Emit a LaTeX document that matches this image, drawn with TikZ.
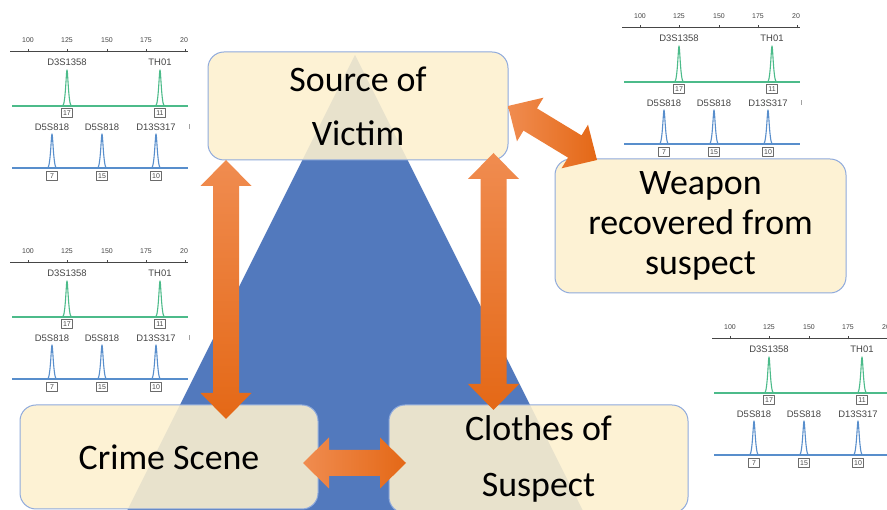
\documentclass[tikz,border=0pt]{standalone}
\usepackage{fontspec}
\setmainfont{Carlito}
\newfontfamily\epgfont{Liberation Sans}
\usetikzlibrary{positioning,calc}

\definecolor{boxfill}{RGB}{253,241,207}
\definecolor{boxedge}{RGB}{143,170,220}
\definecolor{pyramid}{RGB}{82,121,189}
\definecolor{arrowlight}{RGB}{240,140,80}
\definecolor{arrowdark}{RGB}{228,104,22}
\definecolor{tracegreen}{RGB}{76,187,138}
\definecolor{traceblue}{RGB}{88,142,204}
\definecolor{epgtext}{RGB}{70,70,70}

\newcommand{\headlen}{26bp}
\newcommand{\headwd}{25.5bp}
\newcommand{\shaftwd}{13bp}

% fat double-headed arrow between two named points
\newcommand{\dblarrow}[3][]{%
  \path[#1] (#2)
    -- ($(#2)!\headlen!(#3)!\headwd!90:(#3)$)
    -- ($(#2)!\headlen!(#3)!\shaftwd!90:(#3)$)
    -- ($(#3)!\headlen!(#2)!\shaftwd!-90:(#2)$)
    -- ($(#3)!\headlen!(#2)!\headwd!-90:(#2)$)
    -- (#3)
    -- ($(#3)!\headlen!(#2)!\headwd!90:(#2)$)
    -- ($(#3)!\headlen!(#2)!\shaftwd!90:(#2)$)
    -- ($(#2)!\headlen!(#3)!\shaftwd!-90:(#3)$)
    -- ($(#2)!\headlen!(#3)!\headwd!-90:(#3)$)
    -- cycle;}

\tikzset{
  evidence/.style={draw=boxedge, line width=1bp, fill=boxfill, fill opacity=0.88,
    text opacity=1, rounded corners=16bp, inner sep=0pt, align=center},
  epgaxis/.style={font=\epgfont\fontsize{7}{7}\selectfont, text=epgtext, inner sep=0pt},
  epgmark/.style={font=\epgfont\fontsize{9.5}{9.5}\selectfont, text=epgtext, inner sep=0pt},
  allele/.style={draw=epgtext!80, line width=0.6bp, fill=white,
    font=\epgfont\fontsize{7}{7}\selectfont, text=epgtext, inner sep=0pt,
    minimum width=11bp, minimum height=9bp},
  greentrace/.style={draw=tracegreen, line width=1.1bp},
  bluetrace/.style={draw=traceblue, line width=1.1bp},
  % one STR profile: size axis, green and blue dye channels
  epg/.pic={
    \foreach \v/\x in {100/18,125/57,150/97,175/136,20/174}
      \node (-ax\v) at (\x,11) [epgaxis] {\v};
    \draw[epgtext, line width=0.7bp] (0,0) -- (178,0);
    \foreach \x in {18,57,97,136,175}
      \draw[epgtext, line width=0.6bp] (\x,-1.5) -- (\x,1.5);
    %
    \node (-d3) at (57,-11) [epgmark] {D3S1358};
    \node (-th) at (150,-11) [epgmark] {TH01};
    \draw[greentrace] (2,-55) -- (178,-55);
    \foreach \p in {57,150}
      \draw[greentrace] (\p-4.5,-55) .. controls (\p-1.5,-55) and (\p-0.8,-19) .. (\p,-19)
        .. controls (\p+0.8,-19) and (\p+1.5,-55) .. (\p+4.5,-55);
    \node (-g1) at (57,-62) [allele] {17};
    \node (-g2) at (150,-62) [allele] {11};
    %
    \node (-d5a) at (42,-76) [epgmark] {D5S818};
    \node (-d5b) at (92,-76) [epgmark] {D5S818};
    \node (-d13) at (146,-76) [epgmark] {D13S317};
    \draw[epgtext!50, line width=0.6bp] (179,-73.5) -- (179,-78.5);
    \draw[bluetrace] (2,-117) -- (178,-117);
    \foreach \p in {42,92,146}
      \draw[bluetrace] (\p-4.5,-117) .. controls (\p-1.5,-117) and (\p-0.8,-83) .. (\p,-83)
        .. controls (\p+0.8,-83) and (\p+1.5,-117) .. (\p+4.5,-117);
    \node (-b1) at (42,-125) [allele] {7};
    \node (-b2) at (92,-125) [allele] {15};
    \node (-b3) at (146,-125) [allele] {10};
  }
}

\begin{document}
\begin{tikzpicture}[x=1bp,y=1bp,line join=round]
\useasboundingbox (0,0) rectangle (887,510);
\clip (0,0) rectangle (887,510);
\fill[white] (0,0) rectangle (887,510);
%% pyramid behind the boxes
\fill[pyramid] (355,455) -- (105,-45) -- (605,-45) -- cycle;
%% profiles
\pic (epgA) at (10,459) {epg};
\pic (epgB) at (10,248) {epg};
\pic (epgC) at (622,483) {epg};
\pic (epgD) at (712,172) {epg};
%% evidence
\node (victim) at (358bp,404bp) [evidence, minimum width=300bp, minimum height=108bp,
  font=\fontsize{36}{54}\selectfont] {Source of\\Victim};
\node (weapon) at (700.5bp,284bp) [evidence, minimum width=291bp, minimum height=134bp,
  font=\fontsize{36}{40}\selectfont] {Weapon\\recovered from\\suspect};
\node (scene) at (169bp,53bp) [evidence, minimum width=298bp, minimum height=104bp,
  font=\fontsize{36}{40}\selectfont] {Crime Scene};
\node (clothes) at (538.5bp,51bp) [evidence, minimum width=299bp, minimum height=108bp,
  font=\fontsize{36}{57}\selectfont] {Clothes of\\Suspect};
%% links
\coordinate (vicL) at (226,350);
\coordinate (scnT) at (226,91);
\coordinate (vicR) at (493.5,357);
\coordinate (clsT) at (493.5,100);
\coordinate (scnR) at (303,47);
\coordinate (clsL) at (406,47);
\coordinate (vicE) at (508,404);
\coordinate (wpnT) at (597,350);
\dblarrow[top color=arrowlight, bottom color=arrowdark]{vicL}{scnT}
\dblarrow[top color=arrowlight, bottom color=arrowdark]{vicR}{clsT}
\dblarrow[left color=arrowlight, right color=arrowdark]{scnR}{clsL}
\dblarrow[left color=arrowlight, right color=arrowdark]{vicE}{wpnT}
%
\end{tikzpicture}
\end{document}
